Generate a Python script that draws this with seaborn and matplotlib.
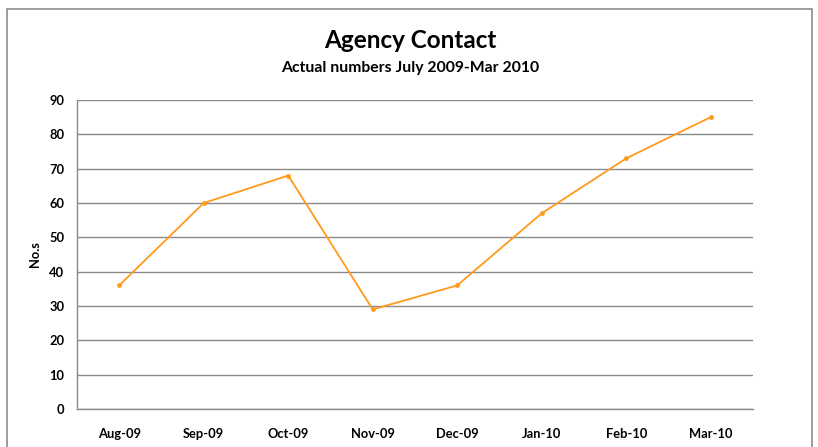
import numpy as np
import pandas as pd
import matplotlib
matplotlib.use("Agg")
import matplotlib.pyplot as plt
from matplotlib.patches import Rectangle
import seaborn as sns

# values
months = ["Aug-09", "Sep-09", "Oct-09", "Nov-09", "Dec-09", "Jan-10", "Feb-10", "Mar-10"]
contacts = [36, 60, 68, 29, 36, 57, 73, 85]
y_ticks = [0, 10, 20, 30, 40, 50, 60, 70, 80, 90]

df = pd.DataFrame({"month": months, "contacts": contacts})

sns.set_theme(style="white")
plt.rcParams["font.family"] = ["Lato", "DejaVu Sans"]
plt.rcParams["text.color"] = "black"
plt.rcParams["xtick.labelcolor"] = "black"
plt.rcParams["ytick.labelcolor"] = "black"
plt.rcParams["axes.labelcolor"] = "black"

fig = plt.figure(figsize=(8.18, 4.47), dpi=100)
ax = fig.add_axes([0.0941, 0.085, 0.8264, 0.6913])

# chart frame like the spreadsheet export
fig.patches.append(Rectangle((7 / 818, -0.1), (812 - 7) / 818, 1.1 - 9 / 447,
                             transform=fig.transFigure, fill=False,
                             edgecolor="#8c8c8c", linewidth=1.2))

sns.lineplot(data=df, x="month", y="contacts", ax=ax, color="#FF9A1A",
             linewidth=1.3, marker="o", markersize=3.5, markeredgewidth=0,
             sort=False)

ax.set_xlim(-0.5, len(months) - 0.5)
ax.set_ylim(0, 90)
ax.set_yticks(y_ticks)
ax.yaxis.grid(True, color="#8a8a8a", linewidth=1)
ax.set_axisbelow(True)

ax.set_xticks(range(len(months)))
ax.set_xticklabels(months, fontsize=9.3, fontweight="bold")
ax.set_xticks(np.arange(-0.5, len(months)), minor=True)
ax.tick_params(axis="x", which="major", length=0, pad=14)
ax.tick_params(axis="x", which="minor", length=5, width=1, color="#8a8a8a", direction="out")
ax.tick_params(axis="y", length=5, width=1, color="#8a8a8a", direction="out", labelsize=9.3, pad=4)
for lab in ax.get_yticklabels():
    lab.set_fontweight("bold")

for s in ["top", "right"]:
    ax.spines[s].set_visible(False)
for s in ["left", "bottom"]:
    ax.spines[s].set_color("#8a8a8a")
    ax.spines[s].set_linewidth(1)

ax.set_xlabel("")
ax.set_ylabel("No.s", fontsize=9.3, fontweight="bold", labelpad=6)

fig.text(0.502, 0.91, "Agency Contact", ha="center", va="center",
         fontsize=17.5, fontweight="bold")
fig.text(0.502, 0.848, "Actual numbers July 2009-Mar 2010", ha="center", va="center",
         fontsize=11.3, fontweight="bold")

fig.savefig("out.png", dpi=100)
